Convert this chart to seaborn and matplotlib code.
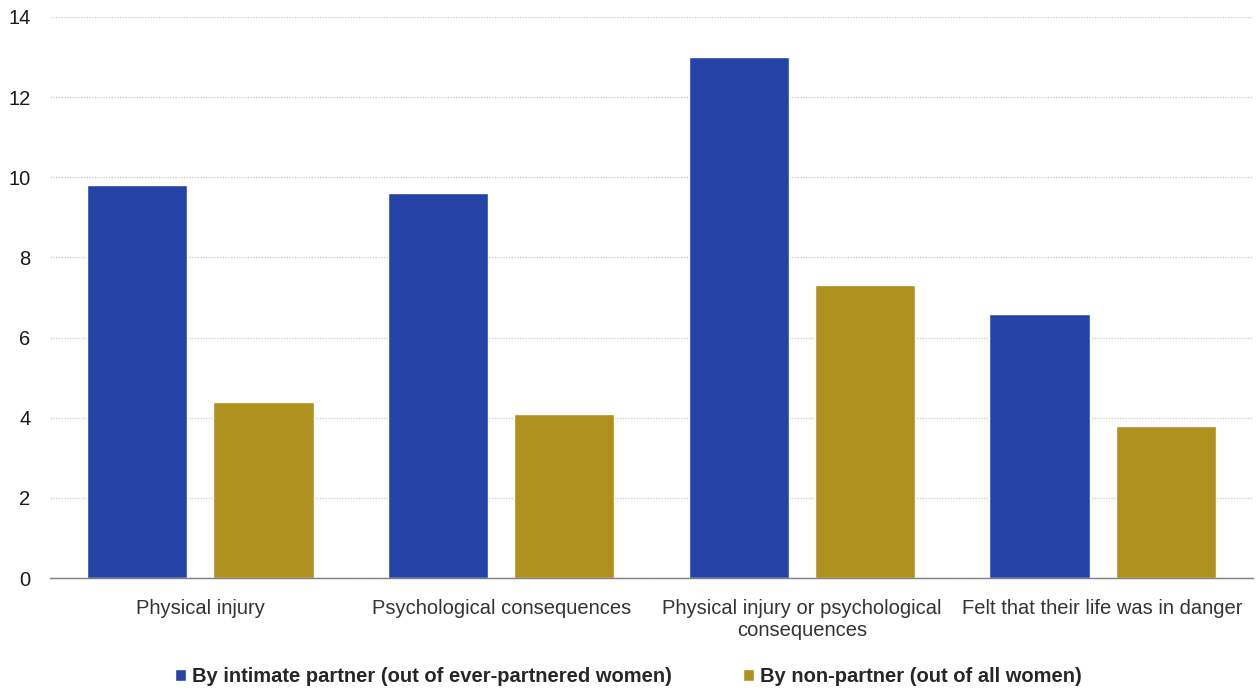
import pandas as pd
import numpy as np
import matplotlib.pyplot as plt
import seaborn as sns

# data
categories = [
    "Physical injury",
    "Psychological consequences",
    "Physical injury or psychological\nconsequences",
    "Felt that their life was in danger",
]
series = [
    "By intimate partner (out of ever-partnered women)",
    "By non-partner (out of all women)",
]
partner_vals = [9.8, 9.6, 13.0, 6.6]
nonpartner_vals = [4.4, 4.1, 7.3, 3.8]
colors = ["#2644a7", "#b0911f"]

df = pd.DataFrame({
    "Category": categories * 2,
    "Series": [series[0]] * 4 + [series[1]] * 4,
    "Value": partner_vals + nonpartner_vals,
})

sns.set_style("white")
plt.rcParams['font.family'] = ['Liberation Sans', 'DejaVu Sans']

fig = plt.figure(figsize=(12.57, 6.88), dpi=100)
ax = fig.add_axes([50 / 1257, 1 - 578 / 688, 1203 / 1257, 561 / 688])

sns.barplot(
    data=df, x="Category", y="Value", hue="Series",
    hue_order=series, order=categories, palette=colors,
    width=0.84, gap=0.206, saturation=1, ax=ax,
)

ax.set_ylim(0, 14)
ax.set_xlim(-0.5, 3.5)
ax.set_yticks(np.arange(0, 15, 2))
ax.yaxis.grid(True, color="#d0d0d0", linestyle=(0, (1, 1)), linewidth=1)
ax.set_axisbelow(True)
ax.set_xlabel("")
ax.set_ylabel("")

for s in ["top", "right", "left"]:
    ax.spines[s].set_visible(False)
ax.spines["bottom"].set_color("#808080")
ax.spines["bottom"].set_linewidth(1)

ax.tick_params(axis="y", length=0, labelsize=14.5, pad=14, labelcolor="#1a1a1a")
ax.tick_params(axis="x", which="major", length=0, labelsize=14.5, pad=15, labelcolor="#333333")
ax.set_xticks(np.arange(-0.5, 4, 1), minor=True)
ax.tick_params(axis="x", which="minor", length=5, color="#808080", width=1)

sns.move_legend(
    ax, "lower center", bbox_to_anchor=(0.5, -0.023), bbox_transform=fig.transFigure,
    ncol=2, frameon=False, title=None, handlelength=0.55, handleheight=0.55,
    handletextpad=0.3, columnspacing=3.5, prop={"weight": "bold", "size": 14.5},
)

fig.savefig("out.png", dpi=100)
